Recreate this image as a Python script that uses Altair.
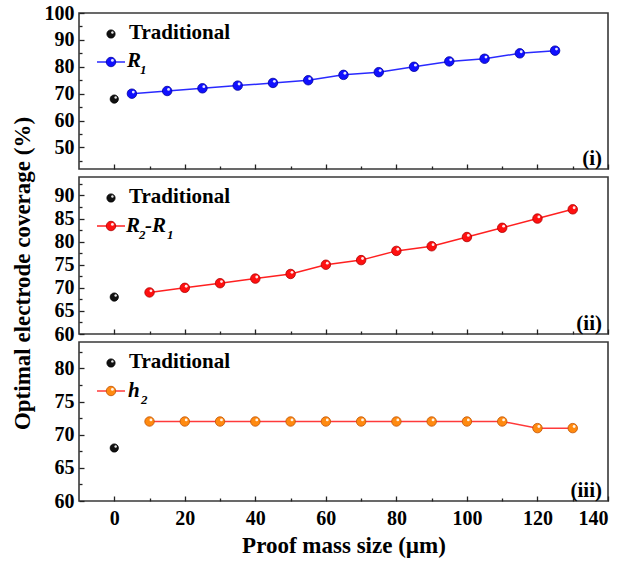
import altair as alt
import pandas as pd

# ---- data -------------------------------------------------------------
trad_size = [0]
trad_cov = [68]

r1_size = [5, 15, 25, 35, 45, 55, 65, 75, 85, 95, 105, 115, 125]
r1_cov = [70, 71, 72, 73, 74, 75, 77, 78, 80, 82, 83, 85, 86]

r21_size = [10, 20, 30, 40, 50, 60, 70, 80, 90, 100, 110, 120, 130]
r21_cov = [69, 70, 71, 72, 73, 75, 76, 78, 79, 81, 83, 85, 87]

h2_size = [10, 20, 30, 40, 50, 60, 70, 80, 90, 100, 110, 120, 130]
h2_cov = [72, 72, 72, 72, 72, 72, 72, 72, 72, 72, 72, 71, 71]

x_major_ticks = [0, 20, 40, 60, 80, 100, 120, 140]
x_minor_ticks = [10, 30, 50, 70, 90, 110, 130]

SERIF = "Liberation Serif"
W = 529
TICK_COLOR = "#222222"

X_SCALE = alt.Scale(domain=[-10, 140], nice=False, zero=False)


def axis(orient, values, size, labels=False, title=None, **kw):
    # ticks are pulled inward by offsetting the axis by its own tick length
    return alt.Axis(orient=orient, values=values, tickSize=size, offset=-size,
                    ticks=True, labels=labels, domain=False, grid=False, title=title,
                    tickColor=TICK_COLOR, tickWidth=1.3,
                    labelFont=SERIF, labelFontSize=20, labelFontWeight="bold",
                    labelColor="black", **kw)


def ball(chart, color, edge, size, hl):
    base = chart.mark_circle(size=size, color=color, opacity=1,
                             stroke=edge, strokeWidth=0.8)
    shine = chart.mark_circle(size=hl, color="white", opacity=0.9,
                              xOffset=1.4, yOffset=-1.6)
    return base, shine


def panel(xs, ys, color, line_color, edge, ydom, y_major, y_minor, height,
          legend_parts, tag, bottom=False, ytitle=None):
    df = pd.DataFrame({"size": xs, "coverage": ys})
    tdf = pd.DataFrame({"size": trad_size, "coverage": trad_cov})
    one = pd.DataFrame({"k": [0]})
    ysc = alt.Scale(domain=ydom, nice=False, zero=False)

    x_major_kw = {}
    if bottom:
        x_major_kw = dict(labels=True, labelPadding=7,
                          title="Proof mass size (µm)", titleFont=SERIF,
                          titleFontSize=23, titleFontWeight="bold",
                          titlePadding=6, titleColor="black")
    y_major_kw = dict(labels=True, labelPadding=5)
    if ytitle:
        y_major_kw.update(title=ytitle, titleFont=SERIF, titleFontSize=23,
                          titleFontWeight="bold", titleColor="black",
                          titleX=-62, titleY=96, titleBaseline="middle",
                          titleAngle=270)

    line = alt.Chart(df).mark_line(color=line_color, strokeWidth=1.5).encode(
        x=alt.X("size:Q", scale=X_SCALE, axis=axis("bottom", x_minor_ticks, 3)),
        y=alt.Y("coverage:Q", scale=ysc, axis=axis("left", y_minor, 3)),
    )
    pts_chart = alt.Chart(df).encode(
        x=alt.X("size:Q", scale=X_SCALE,
                axis=axis("bottom", x_major_ticks, 5, **x_major_kw)),
        y=alt.Y("coverage:Q", scale=ysc, axis=axis("left", y_major, 5, **y_major_kw)),
    )
    pts, pts_hl = ball(pts_chart, color, edge, 90, 8)
    pts_hl = pts_hl.encode(x=alt.X("size:Q", axis=None), y=alt.Y("coverage:Q", axis=None))

    tchart = alt.Chart(tdf).encode(
        x=alt.X("size:Q", axis=None), y=alt.Y("coverage:Q", axis=None))
    trad, trad_hl = ball(tchart, "#111111", "#000000", 68, 6)

    # legend
    leg = alt.Chart(one)
    lg_ball, lg_ball_hl = ball(leg.encode(x=alt.value(32), y=alt.value(21)),
                               "#111111", "#000000", 68, 6)
    lg_text = leg.mark_text(align="left", baseline="alphabetic", font=SERIF,
                            fontSize=21, fontWeight="bold", color="black",
                            text="Traditional").encode(x=alt.value(50), y=alt.value(26))
    lg_rule = leg.mark_rule(color=line_color, strokeWidth=1.5).encode(
        x=alt.value(18), x2=alt.value(46), y=alt.value(49))
    lg_pt, lg_pt_hl = ball(leg.encode(x=alt.value(32), y=alt.value(49)),
                           color, edge, 90, 8)
    parts = []
    for txt, px, py, fs in legend_parts:
        parts.append(leg.mark_text(align="left", baseline="alphabetic", font=SERIF,
                                   fontSize=fs, fontWeight="bold", fontStyle="italic",
                                   color="black", text=txt).encode(
            x=alt.value(px), y=alt.value(py)))

    tag_text = leg.mark_text(align="right", baseline="alphabetic", font=SERIF,
                             fontSize=21, fontWeight="bold", color="black",
                             text=tag).encode(x=alt.value(W - 6), y=alt.value(height - 4))

    return alt.layer(
        line, pts, pts_hl, trad, trad_hl,
        lg_ball, lg_ball_hl, lg_text, lg_rule, lg_pt, lg_pt_hl, *parts, tag_text,
    ).resolve_axis(x="independent", y="independent").properties(width=W, height=height)


p1 = panel(r1_size, r1_cov, "#1010ff", "#2a2aff", "#0000a0", [42, 100],
           [50, 60, 70, 80, 90, 100], [45, 55, 65, 75, 85, 95], 156,
           [("R", 48, 54, 21), ("1", 61, 61, 13)], "(i)")
p2 = panel(r21_size, r21_cov, "#ff1010", "#ff2020", "#b00000", [60, 94],
           [60, 65, 70, 75, 80, 85, 90], [62.5, 67.5, 72.5, 77.5, 82.5, 87.5, 92.5], 157,
           [("R", 47, 55, 21), ("2", 60, 62, 13), ("-R", 66, 55, 21), ("1", 88, 62, 13)],
           "(ii)", ytitle="Optimal electrode coverage (%)")
p3 = panel(h2_size, h2_cov, "#ff8a10", "#ff3a3a", "#c05000", [60, 84],
           [60, 65, 70, 75, 80], [62.5, 67.5, 72.5, 77.5, 82.5], 159,
           [("h", 49, 55, 21), ("2", 62, 62, 13)], "(iii)", bottom=True)

chart = alt.vconcat(p1, p2, p3, spacing=8).properties(
    bounds="flush",
    padding={"left": 10, "top": 2, "right": 5, "bottom": 5},
).configure(
    background="white",
).configure_view(
    stroke="#383838", strokeWidth=1.6,
)

chart.save("out.html", embed_options={"renderer": "svg", "actions": False})
